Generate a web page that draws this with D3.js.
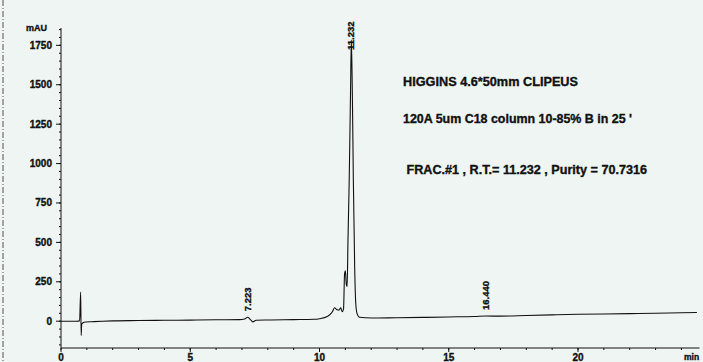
<!DOCTYPE html>
<html><head><meta charset="utf-8">
<script src="https://cdn.jsdelivr.net/npm/d3@7"></script>
<style>
html,body{margin:0;padding:0;background:#eef5f2;}
svg{display:block;}
text{font-family:"Liberation Sans",Arial,sans-serif;font-weight:bold;fill:#111;stroke:#111;stroke-width:0.35;}
</style></head>
<body>
<svg id="c" width="703" height="362"></svg>
<script>
// ---- data ----
const times = [0,0.6,0.72,0.76,0.78,0.80,0.85,0.95,1.2,1.6,2.0,3.0,4.0,5.0,6.0,6.9,7.1,7.223,7.32,7.42,7.55,8.0,9.0,9.8,10.0,10.3,10.5,10.58,10.68,10.75,10.82,10.88,10.93,10.97,11.0,11.04,11.07,11.10,11.15,11.20,11.232,11.27,11.31,11.36,11.40,11.45,11.55,12.0,13,14,15,16,16.44,17,18,19,20,21,22,23,24,24.6];
const mAU   = [0,0,2,185,-90,-20,-10,-5,-3,0,2,4,6,7,9,10,14,25,12,-4,6,8,10,12,16,30,60,85,72,70,85,60,80,300,320,230,220,500,900,1450,1785,1450,890,350,120,50,25,20,22,24,27,30,33,32,36,40,44,46,48,50,54,55];
const peakTimes  = [7.223, 11.232, 16.440];
const peakLabels = ["7.223", "11.232", "16.440"];
const yTicks = [0,250,500,750,1000,1250,1500,1750];
const xTicks = [0,5,10,15,20];
const notes = ["HIGGINS 4.6*50mm CLIPEUS", "120A 5um C18 column 10-85% B in 25 '", " FRAC.#1 , R.T.= 11.232 , Purity = 70.7316"];

const svg = d3.select("#c");
const x = d3.scaleLinear().domain([0,24.7]).range([61,699.5]);
const y = d3.scaleLinear().domain([-170,1860]).range([348,28]);
const ink = "#111";

// scan border
svg.append("line").attr("x1",3).attr("x2",3).attr("y1",0).attr("y2",362)
  .attr("stroke","#555").attr("stroke-width",1).attr("stroke-dasharray","6,2,1,2");

// y axis
const gy = svg.append("g").attr("transform","translate(61,0)");
gy.append("line").attr("y1",y(1860)).attr("y2",y(-170)).attr("stroke",ink).attr("stroke-width",1);
gy.selectAll(".mn").data(d3.range(-150,1860,50)).join("line")
  .attr("x1",-2).attr("x2",0).attr("y1",d=>y(d)).attr("y2",d=>y(d)).attr("stroke",ink);
gy.selectAll(".mj").data(yTicks).join("line")
  .attr("x1",-5).attr("x2",0).attr("y1",d=>y(d)).attr("y2",d=>y(d)).attr("stroke",ink);
gy.selectAll("text").data(yTicks).join("text")
  .attr("x",-9).attr("y",d=>y(d)).attr("dy","0.35em").attr("text-anchor","end")
  .attr("font-size",10).text(d=>d);
svg.append("text").attr("x",26).attr("y",31).attr("font-size",9).text("mAU");

// x axis
const gx = svg.append("g");
gx.append("line").attr("x1",x(0)).attr("x2",x(24.7)).attr("y1",348).attr("y2",348).attr("stroke",ink);
gx.selectAll(".mn").data(d3.range(0,25,1)).join("line")
  .attr("x1",d=>x(d)).attr("x2",d=>x(d)).attr("y1",348).attr("y2",350).attr("stroke",ink);
gx.selectAll(".mj").data(xTicks).join("line")
  .attr("x1",d=>x(d)).attr("x2",d=>x(d)).attr("y1",348).attr("y2",352).attr("stroke",ink);
gx.selectAll("text").data(xTicks).join("text")
  .attr("x",d=>x(d)).attr("y",361).attr("text-anchor","middle").attr("font-size",10).text(d=>d);
svg.append("text").attr("x",684).attr("y",360).attr("font-size",8.5).text("min");

// trace
const pts = times.map((t,i)=>[t,mAU[i]]);
svg.append("path").datum(pts)
  .attr("d", d3.line().x(d=>x(d[0])).y(d=>y(d[1])).curve(d3.curveMonotoneX))
  .attr("fill","none").attr("stroke",ink).attr("stroke-width",1.1);

// peak labels
const interp = t => { const i = d3.bisectLeft(times,t); return mAU[Math.min(i,mAU.length-1)]; };
peakLabels.forEach((lab,i)=>{
  const t = peakTimes[i];
  const base = lab==="11.232" ? 50 : y(interp(t))-6;
  svg.append("text").attr("transform",`translate(${x(t)+3},${base}) rotate(-90)`)
    .attr("font-size",9.5).text(lab);
});

// annotations
const ny = [86,123,174];
notes.forEach((n,i)=>{
  svg.append("text").attr("x",403).attr("y",ny[i]).attr("font-size",12.4)
    .attr("textLength", [175,229,244][i]).attr("lengthAdjust","spacingAndGlyphs")
    .style("white-space","pre").text(n);
});
</script>
</body></html>
